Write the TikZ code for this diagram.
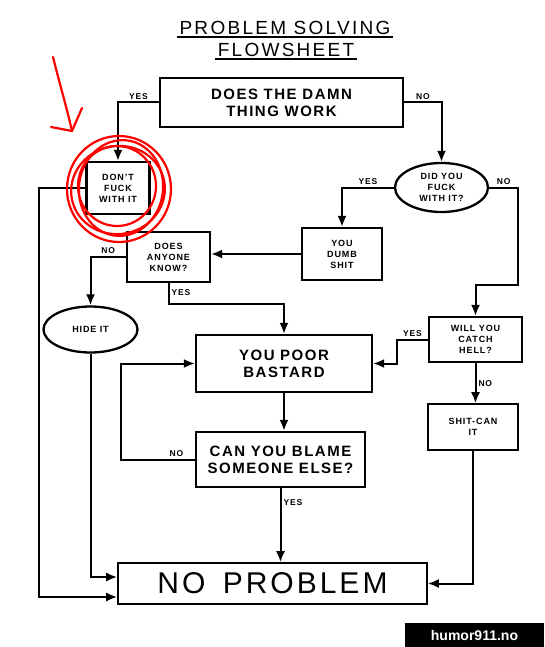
\documentclass[tikz,border=0pt]{standalone}
\usepackage{fontspec}
\setmainfont{Liberation Sans}[LetterSpace=10]
\usetikzlibrary{positioning, arrows.meta, shapes.geometric}

\begin{document}
\begin{tikzpicture}[x=1pt, y=-1pt, line width=2pt, >={Latex[length=11pt,width=9pt]},
  box node/.style={rectangle,draw,line width=2.3pt,align=center,inner sep=1pt},
  oval node/.style={ellipse,draw,line width=2.3pt,align=center,inner sep=0pt},
  big text/.style={font=\fontsize{15}{17}\selectfont\bfseries},
  small text/.style={font=\fontsize{9}{11}\selectfont\bfseries},
  answer/.style={font=\fontsize{8.5}{9}\selectfont\bfseries,inner sep=2pt},
  red mark/.style={draw=red,line width=2.2pt,line cap=round,line join=round}]

\useasboundingbox (0,0) rectangle (544,647);

\node[font=\fontsize{19}{20}\selectfont\addfontfeature{LetterSpace=12}, inner sep=1.5pt] (title) at (285,28) {PROBLEM SOLVING};
\node[font=\fontsize{19}{20}\selectfont\addfontfeature{LetterSpace=12}, inner sep=1.5pt] (sheet) at (286,50) {FLOWSHEET};
\draw (title.south west) -- (title.south east);
\draw (sheet.south west) -- (sheet.south east);

\node[box node, big text, minimum width=243, minimum height=49] (work) at (281.5,102.5) {DOES THE DAMN\\THING WORK};
\node[box node, small text, minimum width=63, minimum height=52] (dont) at (118,188) {DON'T\\FUCK\\WITH IT};
\node[oval node, small text, minimum width=93, minimum height=49] (did) at (441.5,187.5) {DID YOU\\FUCK\\WITH IT?};
\node[box node, small text, minimum width=80, minimum height=52] (dumb) at (342,254) {YOU\\DUMB\\SHIT};
\node[box node, small text, minimum width=83, minimum height=50] (anyone) at (168.5,257) {DOES\\ANYONE\\KNOW?};
\node[oval node, small text, minimum width=94, minimum height=46] (hide) at (90.5,329.5) {HIDE IT};
\node[box node, small text, minimum width=93, minimum height=45] (hell) at (475.5,339.5) {WILL YOU\\CATCH\\HELL?};
\node[box node, big text, minimum width=176, minimum height=57] (poor) at (284,363.5) {YOU POOR\\BASTARD};
\node[box node, small text, line width=1.6pt, minimum width=90, minimum height=46] (canit) at (473,427) {SHIT-CAN\\IT};
\node[box node, big text, minimum width=169, minimum height=55] (blame) at (280.5,459.5) {CAN YOU BLAME\\SOMEONE ELSE?};
\node[box node, line width=1.6pt, font=\fontsize{30}{32}\selectfont, minimum width=309, minimum height=41] (noprob) at (272.5,583.5) {NO\hspace{0.2em} PROBLEM};

\draw[->] (work.west) -| node[answer, above, pos=0.25] {YES} (dont.north);
\draw[->] (work.east) -| node[answer, above, pos=0.25] {NO} (did.north);
\draw[->] (did.west) -| node[answer, above, pos=0.25] {YES} (dumb.north);
\draw[->] (did.east) -- node[answer, above] {NO} ++(29,0) |- (hell.north |- 0,285) -- (hell.north);
\draw[->] (dumb.west) -- (dumb.west -| anyone.east);
\draw[->] (anyone.west) -| node[answer, above, pos=0.25] {NO} (hide.north);
\draw[->] (anyone.south) -- node[answer, right, pos=0.45] {YES} ++(0,21) -| (poor.north);
\draw[->] (hell.west) -- node[answer, above] {YES} ++(-31,0) |- (poor.east);
\draw[->] (hell.south) -- node[answer, right] {NO} (hell.south |- canit.north);
\draw[->] (poor.south) -- (poor.south |- blame.north);
\draw[->] (blame.west) -- node[answer, above, pos=0.25] {NO} ++(-74,0) |- (poor.west);
\draw[->] (blame.south) -- node[answer, right, pos=0.2] {YES} (blame.south |- noprob.north);
\draw[->] (canit.south) |- (noprob.east);
\draw[->] (dont.west) -- ++(-46,0) |- ([yshift=-13.5pt]noprob.west);
\draw[->] (hide.south) |- ([yshift=6.5pt]noprob.west);

\node[fill=black, text=white, font=\fontsize{14}{15}\selectfont\bfseries\addfontfeature{LetterSpace=0}, minimum width=139, minimum height=24] (mark) at (474.5,635) {humor911.no};

\draw[red mark] (53,57) .. controls (60,85) and (66,105) .. (72,131);
\draw[red mark] (51,127) -- (72,131) -- (82,108);
\draw[red mark] (119,189) ellipse (52 and 53);
\draw[red mark, rotate around={12:(118,190)}] (118,190) ellipse (47 and 44);
\draw[red mark, rotate around={-8:(121,188)}] (121,188) ellipse (42 and 48);
\draw[red mark] (117,186) ellipse (39 and 40);
\end{tikzpicture}
\end{document}
